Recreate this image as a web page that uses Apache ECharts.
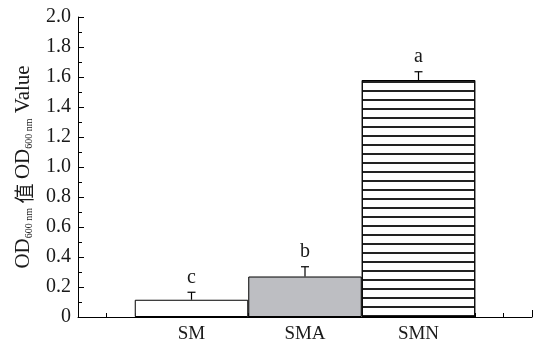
<!DOCTYPE html>
<html>
<head>
<meta charset="utf-8">
<script src="https://cdn.jsdelivr.net/npm/echarts@6/dist/echarts.min.js"></script>
<style>
html,body{margin:0;padding:0;background:#fff;}
#c{width:535px;height:344px;}
</style>
</head>
<body>
<div id="c"></div>
<script>
const categories = ['SM', 'SMA', 'SMN'];
const values = [0.115, 0.27, 1.58];
const errors = [0.05, 0.065, 0.055];
const letters = ['c', 'b', 'a'];
const yTicks = [0, 0.2, 0.4, 0.6, 0.8, 1.0, 1.2, 1.4, 1.6, 1.8, 2.0];

const SERIF = '"Liberation Serif", "Times New Roman", serif';
const fills = ['#ffffff', '#bdbec2', '#ffffff'];
const hatch = [false, false, true];

const chart = echarts.init(document.getElementById('c'), null, {renderer: 'canvas'});

const barData = categories.map((c, i) => {
  const item = {
    value: [i + 1, values[i]],
    itemStyle: {color: fills[i], borderColor: '#000', borderWidth: 1}
  };
  if (hatch[i]) {
    item.itemStyle.decal = {
      symbol: 'rect', symbolSize: 1,
      dashArrayX: [1, 0], dashArrayY: [1.1, 6.7],
      color: '#222'
    };
  }
  return item;
});

const errData = categories.map((c, i) => [i + 1, values[i], errors[i]]);

chart.setOption({
  animation: false,
  backgroundColor: '#fff',
  grid: {left: 78, right: 1, top: 17, bottom: 24, containLabel: false},
  xAxis: {
    type: 'value', min: 0, max: categories.length + 1, interval: 1,
    splitLine: {show: false},
    axisLine: {show: true, lineStyle: {color: '#000', width: 1}},
    axisTick: {show: true, inside: true, length: 7, lineStyle: {color: '#000'}},
    minorTick: {show: true, splitNumber: 4, length: 4, lineStyle: {color: '#000'}},
    axisLabel: {
      margin: 8, color: '#1a1a1a', fontFamily: SERIF, fontSize: 19,
      formatter: v => categories[v - 1] || ''
    }
  },
  yAxis: {
    type: 'value', min: yTicks[0], max: yTicks[yTicks.length - 1], interval: 0.2,
    splitLine: {show: false},
    axisLine: {show: true, lineStyle: {color: '#000', width: 1}},
    axisTick: {show: true, inside: true, length: 6, lineStyle: {color: '#000'}},
    minorTick: {show: true, splitNumber: 2, length: 4, lineStyle: {color: '#000'}},
    axisLabel: {
      margin: 7, color: '#1a1a1a', fontFamily: SERIF, fontSize: 20,
      formatter: v => v === 0 ? '0' : v.toFixed(1)
    },
    name: '{t|OD}{s|600 nm}{c| 值 }{t|OD}{s|600 nm}{t| Value}',
    nameLocation: 'middle',
    nameRotate: 90,
    nameGap: 44,
    nameTextStyle: {
      rich: {
        t: {fontFamily: SERIF, fontSize: 21, color: '#1a1a1a', lineHeight: 22, verticalAlign: 'bottom'},
        c: {fontFamily: '"Noto Sans CJK SC", serif', fontSize: 20, color: '#1a1a1a', lineHeight: 22, verticalAlign: 'bottom'},
        s: {fontFamily: SERIF, fontSize: 10, color: '#1a1a1a', lineHeight: 16, verticalAlign: 'bottom'}
      }
    }
  },
  series: [
    {
      type: 'bar',
      data: barData,
      barWidth: '100%',
      z: 2
    },
    {
      type: 'custom',
      data: errData,
      z: 5,
      renderItem: (params, api) => {
        const x = api.value(0), v = api.value(1), e = api.value(2);
        const base = api.coord([x, v]);
        const top = api.coord([x, v + e]);
        const st = {stroke: '#000', lineWidth: 1.2};
        return {
          type: 'group',
          children: [
            {type: 'line', shape: {x1: base[0], y1: base[1], x2: top[0], y2: top[1]}, style: st},
            {type: 'line', shape: {x1: top[0] - 4, y1: top[1], x2: top[0] + 4, y2: top[1]}, style: st},
            {type: 'text', x: top[0], y: top[1] - 5, style: {
              text: letters[params.dataIndex], fill: '#1a1a1a', font: '20px ' + SERIF,
              textAlign: 'center', textVerticalAlign: 'bottom'
            }}
          ]
        };
      }
    }
  ]
});
</script>
</body>
</html>
